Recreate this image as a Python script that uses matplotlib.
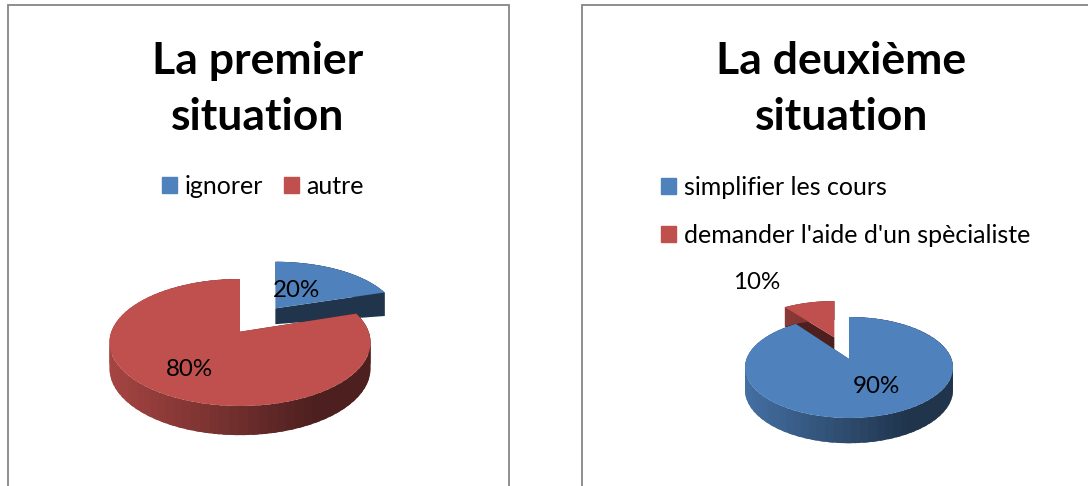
import numpy as np
import matplotlib
matplotlib.use("Agg")
import matplotlib.pyplot as plt
from matplotlib.patches import Patch, Rectangle

plt.rcParams["font.family"] = ["Lato", "DejaVu Sans"]

labels1 = ["ignorer", "autre"]
values1 = [20, 80]
labels2 = ["simplifier les cours", "demander l'aide d'un spècialiste"]
values2 = [90, 10]

title1 = "La premier\nsituation"
title2 = "La deuxième\nsituation"

BLUE = np.array([79, 129, 189]) / 255.0
RED = np.array([192, 80, 77]) / 255.0
FRAME = "#868686"


# disk coords -> page pixels, projective so the pie centre sits above the ellipse centre
# off is the slice apex, it keeps its own x so the 12 o'clock cut stays vertical
def project(u, v, off, geo):
    a = geo["a"]
    s = np.sqrt(1 - a * a)
    den = 1 + a * v
    vp = (v + a) / den
    up = (u - off[0]) * s / den + off[0] * s / (1 + a * off[1])
    return geo["cx"] + geo["rx"] * up, geo["cy"] - geo["ry"] * vp, vp


def depth(vp, r, D):
    # sides get thinner towards the back and towards the apex
    return D * (1 - 0.12 * vp) * (0.65 + 0.35 * r)


def draw_slice(ax, t0, t1, off, col, geo):
    # angles clockwise from 12 o'clock
    t = np.linspace(t0, t1, 240)
    x, y, vp = project(np.sin(t) + off[0], np.cos(t) + off[1], off, geo)
    ax0, ay0, avp = project(np.array([off[0]]), np.array([off[1]]), off, geo)
    d = depth(vp, 1.0, geo["D"])
    d0 = depth(avp, 0.0, geo["D"])[0]
    dark = col * 0.4

    # flat side faces along both cut edges
    for i in (0, -1):
        ax.fill([ax0[0], x[i], x[i], ax0[0]],
                [ay0[0], y[i], y[i] + d[i], ay0[0] + d0],
                color=dark, lw=0, zorder=geo["z"])

    # rim, shaded from left to right, strips overlap so no seams show
    xmin = geo["cx"] - geo["rx"]
    step = 3
    for i in range(0, len(x) - 1, step):
        j = min(i + step + 2, len(x) - 1)
        s = np.clip((0.5 * (x[i] + x[j]) - xmin) / (1.55 * geo["rx"]), 0, 1)
        c = col * (0.86 - 0.46 * s)
        ax.fill(np.r_[x[i:j + 1], x[i:j + 1][::-1]],
                np.r_[y[i:j + 1], (y + d)[i:j + 1][::-1]],
                color=c, lw=0, zorder=geo["z"])

    ax.fill(np.r_[ax0, x], np.r_[ay0, y], color=col, lw=0, zorder=geo["z"] + 0.5)


def draw_pie(ax, values, explode, colors, geo):
    total = float(sum(values))
    ang = 0.0
    spans = []
    for val in values:
        spans.append((ang, ang + 2 * np.pi * val / total))
        ang = ang + 2 * np.pi * val / total
    for i in explode:
        t0, t1 = spans[i]
        mid = 0.5 * (t0 + t1)
        off = (geo["e"] * np.sin(mid), geo["e"] * np.cos(mid))
        draw_slice(ax, t0, t1, off, colors[i], geo)
    geo = dict(geo)
    geo["z"] = geo["z"] + 1
    for i in range(len(values)):
        if i not in explode:
            draw_slice(ax, spans[i][0], spans[i][1], (0.0, 0.0), colors[i], geo)


fig = plt.figure(figsize=(10.88, 4.86), dpi=100)
ax = fig.add_axes([0, 0, 1, 1])
ax.set_xlim(0, 1088)
ax.set_ylim(486, 0)
ax.axis("off")

ax.add_patch(Rectangle((8, 5.5), 500.5, 600, fc="white", ec=FRAME, lw=1.3, zorder=0))
ax.add_patch(Rectangle((582, 5.5), 600, 600, fc="white", ec=FRAME, lw=1.3, zorder=0))

geo1 = dict(cx=240.0, cy=342.5, rx=130.5, ry=63.5, a=0.17, e=0.5, D=26.0, z=2)
geo2 = dict(cx=849.0, cy=367.5, rx=104.0, ry=50.5, a=0.17, e=0.5, D=22.5, z=2)

# first pie: blue slice pulled out, second pie: red slice pulled out
draw_pie(ax, values1, [0], [BLUE, RED], geo1)
draw_pie(ax, values2, [1], [BLUE, RED], geo2)

tsz = 32
lsz = 18
ax.text(257.5, 89, title1, ha="center", va="center", fontsize=tsz, fontweight="bold",
        linespacing=1.5, color="black", zorder=6)
ax.text(841.5, 89, title2, ha="center", va="center", fontsize=tsz, fontweight="bold",
        linespacing=1.5, color="black", zorder=6)

pct = 17.4
ax.text(297, 290.5, "%d%%" % values1[0], ha="center", va="center", fontsize=pct, zorder=6)
ax.text(189, 369.5, "%d%%" % values1[1], ha="center", va="center", fontsize=pct, zorder=6)
ax.text(876, 386.5, "%d%%" % values2[0], ha="center", va="center", fontsize=pct, zorder=6)
ax.text(757, 282.5, "%d%%" % values2[1], ha="center", va="center", fontsize=pct, zorder=6)

hnd1 = [Patch(color=BLUE, label=labels1[0]), Patch(color=RED, label=labels1[1])]
hnd2 = [Patch(color=BLUE, label=labels2[0]), Patch(color=RED, label=labels2[1])]

leg1 = ax.legend(handles=hnd1, ncols=2, frameon=False, fontsize=lsz,
                 loc="center", bbox_to_anchor=(263, 186), bbox_transform=ax.transData,
                 handlelength=0.6, handleheight=0.6, handletextpad=0.3,
                 columnspacing=0.85, borderpad=0, borderaxespad=0)
ax.add_artist(leg1)
ax.legend(handles=hnd2, frameon=False, fontsize=lsz,
          loc="center left", bbox_to_anchor=(661, 211.5), bbox_transform=ax.transData,
          handlelength=0.6, handleheight=0.6, handletextpad=0.3,
          labelspacing=1.0, borderpad=0, borderaxespad=0)

fig.savefig("out.png", dpi=100)
